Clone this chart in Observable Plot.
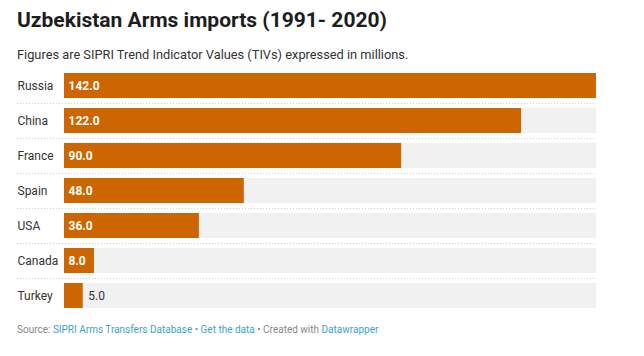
<!DOCTYPE html>
<html>
<head>
<meta charset="utf-8">
<script src="https://cdn.jsdelivr.net/npm/d3@7"></script>
<script src="https://cdn.jsdelivr.net/npm/@observablehq/plot@0.6"></script>
<style>
  html, body { margin: 0; padding: 0; background: #fff; width: 644px; height: 356px; overflow: hidden; font-family: Roboto, "Noto Sans", sans-serif; }
  #title { position: absolute; left: 17px; top: 8px; font-size: 21px; font-weight: 700; color: #1d1d1d; white-space: nowrap; }
  #subtitle { position: absolute; left: 17px; top: 47px; font-size: 12.8px; color: #333; white-space: nowrap; }
  #chart { position: absolute; left: 0; top: 68px; }
  #footer { position: absolute; left: 17px; top: 324px; font-size: 10px; color: #888; white-space: nowrap; }
  #footer a { color: #3ea2c8; text-decoration: none; }
</style>
</head>
<body>
<div id="title">Uzbekistan Arms imports (1991- 2020)</div>
<div id="subtitle">Figures are SIPRI Trend Indicator Values (TIVs) expressed in millions.</div>
<div id="chart"></div>
<div id="footer">Source: <a>SIPRI Arms Transfers Database</a> • <a>Get the data</a> • Created with <a>Datawrapper</a></div>
<script>
const countries = ["Russia", "China", "France", "Spain", "USA", "Canada", "Turkey"];
const values = [142, 122, 90, 48, 36, 8, 5];
const maxValue = 142;

const data = countries.map((c, i) => ({country: c, value: values[i]}));

const W = 644, ML = 64, MR = 48;
const pxPerUnit = (W - ML - MR) / maxValue;
const inside = data.filter(d => d.value * pxPerUnit > 25);
const outside = data.filter(d => d.value * pxPerUnit <= 25);

const chart = Plot.plot({
  width: W,
  height: 245,
  marginLeft: ML,
  marginRight: MR,
  marginTop: 0,
  marginBottom: 0,
  style: {fontFamily: "Roboto, 'Noto Sans', sans-serif", background: "transparent"},
  x: {domain: [0, maxValue], axis: null},
  y: {domain: countries, padding: 0, axis: null},
  marks: [
    Plot.barX(data, {x1: 0, x2: maxValue, y: "country", fill: "#f1f1f1", insetTop: 5, insetBottom: 5}),
    Plot.barX(data, {x: "value", y: "country", fill: "#cd6600", insetTop: 5, insetBottom: 5}),
    Plot.ruleY(countries.slice(0, -1), {y: d => d, dy: 17.5, stroke: "#cfcfcf", strokeDasharray: "1,2", insetLeft: -47}),
    Plot.text(data, {y: "country", text: "country", frameAnchor: "left", dx: -47, textAnchor: "start", fill: "#333", fontSize: 12}),
    Plot.text(inside, {x: 0, y: "country", text: d => d.value.toFixed(1), dx: 4, textAnchor: "start", fill: "#fff", fontSize: 12, fontWeight: "bold"}),
    Plot.text(outside, {x: "value", y: "country", text: d => d.value.toFixed(1), dx: 5, textAnchor: "start", fill: "#333", fontSize: 12})
  ]
});
document.getElementById("chart").appendChild(chart);
</script>
</body>
</html>
